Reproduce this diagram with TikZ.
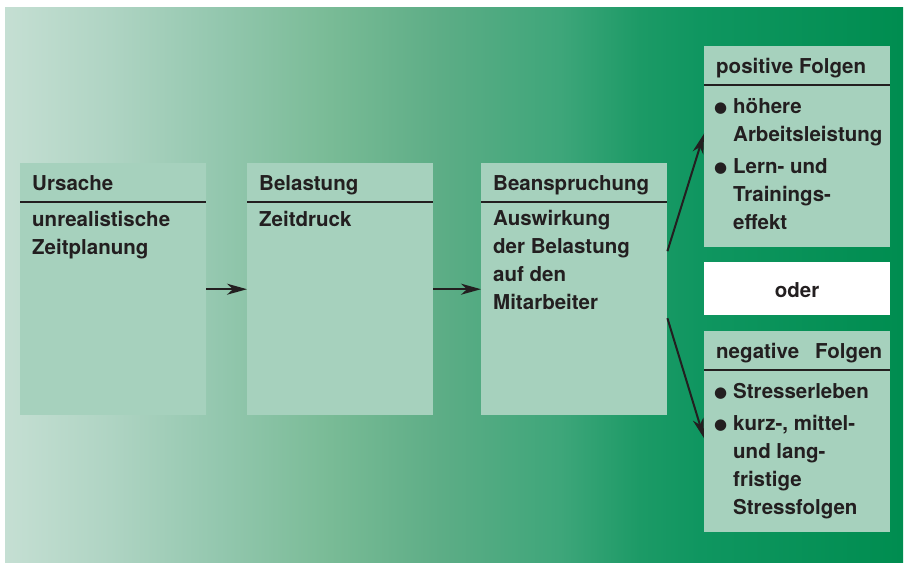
\documentclass[tikz,border=0pt]{standalone}
\usepackage{fontspec}
\setmainfont{TeX Gyre Heros}
\newfontfamily\punktfont{DejaVu Sans}
\usepackage{tikz}
\usetikzlibrary{arrows.meta}

\definecolor{kastengruen}{HTML}{A6D1BD}
\definecolor{schrift}{HTML}{231F20}
\definecolor{gA}{HTML}{C5DFD3}
\definecolor{gB}{HTML}{AFD4C3}
\definecolor{gC}{HTML}{93C7AE}
\definecolor{gD}{HTML}{79BB96}
\definecolor{gE}{HTML}{5DAD86}
\definecolor{gF}{HTML}{3EA67A}
\definecolor{gG}{HTML}{1C9A66}
\definecolor{gH}{HTML}{0F9660}
\definecolor{gI}{HTML}{008D50}
\pgfdeclarehorizontalshading{hintergrund}{100bp}{color(0bp)=(gA); color(25bp)=(gA);
  color(30.85bp)=(gB); color(36.97bp)=(gC); color(43.1bp)=(gD); color(49.22bp)=(gE);
  color(55.9bp)=(gF); color(60.36bp)=(gG); color(63.7bp)=(gH); color(75bp)=(gI); color(100bp)=(gI)}

\newcommand{\bul}{\makebox[17pt][l]{\hspace*{-2pt}\raisebox{0.5pt}{\punktfont\fontsize{15}{15}\selectfont ●}}}
\newcommand{\einr}{\hspace*{17pt}}

\begin{document}
\begin{tikzpicture}[x=1pt, y=-1pt,
    kasten/.style={fill=kastengruen, inner sep=0pt, minimum width=186pt, anchor=north west},
    titel/.style={anchor=base west, inner sep=0pt, text=schrift, font=\bfseries\fontsize{20.5}{28}\selectfont},
    inhalt/.style={titel, align=left},
    linie/.style={draw=schrift, line width=1.6pt},
    pfeil/.style={draw=schrift, line width=2pt, -{Stealth[length=20pt, width=11pt, inset=6pt]}}]
        \useasboundingbox (0,0) rectangle (904,563);
        \shade[shading=hintergrund] (5,7) rectangle (903,562);

        \node[kasten, minimum height=252pt] (ursache) at (20,163) {};
        \node[kasten, minimum height=252pt] (belastung) at (247,163) {};
        \node[kasten, minimum height=252pt] (beanspruchung) at (481,163) {};
        \node[kasten, minimum height=201pt] (positiv) at (704,46) {};
        \node[kasten, fill=white, minimum height=53pt] (oder) at (704,262) {};
        \node[kasten, minimum height=201pt] (negativ) at (704,331) {};

        \foreach \k in {ursache, belastung, beanspruchung, positiv, negativ}
            \draw[linie] ([yshift=-39pt]\k.north west) -- ([yshift=-39pt]\k.north east);

        % text nodes sit on the baseline of their last line
        \node[titel] (ursachekopf) at (32,190) {Ursache};
        \node[inhalt] (ursachetext) at (32,254) {unrealistische\\Zeitplanung};
        \node[titel] (belastungkopf) at (259,190) {Belastung};
        \node[inhalt] (belastungtext) at (259,226) {Zeitdruck};
        \node[titel] (beanspruchungkopf) at (493,190) {Beanspruchung};
        \node[inhalt] (beanspruchungtext) at (493,309) {Auswirkung\\der Belastung\\auf den\\Mitarbeiter};
        \node[titel] (positivkopf) at (716,73) {positive Folgen};
        \node[inhalt] (positivtext) at (716,229) {\bul höhere\\\einr Arbeitsleistung\\[4pt]\bul Lern- und\\\einr Trainings-\\\einr effekt};
        \node[titel, anchor=base] (odertext) at (797,297) {oder};
        \node[titel] (negativkopf) at (716,358) {negative\hspace{16pt}Folgen};
        \node[inhalt] (negativtext) at (716,514) {\bul Stresserleben\\[4pt]\bul kurz-, mittel-\\\einr und lang-\\\einr fristige\\\einr Stressfolgen};

        \draw[pfeil] (ursache) to (belastung);
        \draw[pfeil] (belastung) to (beanspruchung);
        \draw[pfeil] ([yshift=38pt]beanspruchung.east) to ([yshift=13pt]positiv.west);
        \draw[pfeil] ([yshift=-29pt]beanspruchung.east) to ([yshift=-6.5pt]negativ.west);
    \end{tikzpicture}
\end{document}
